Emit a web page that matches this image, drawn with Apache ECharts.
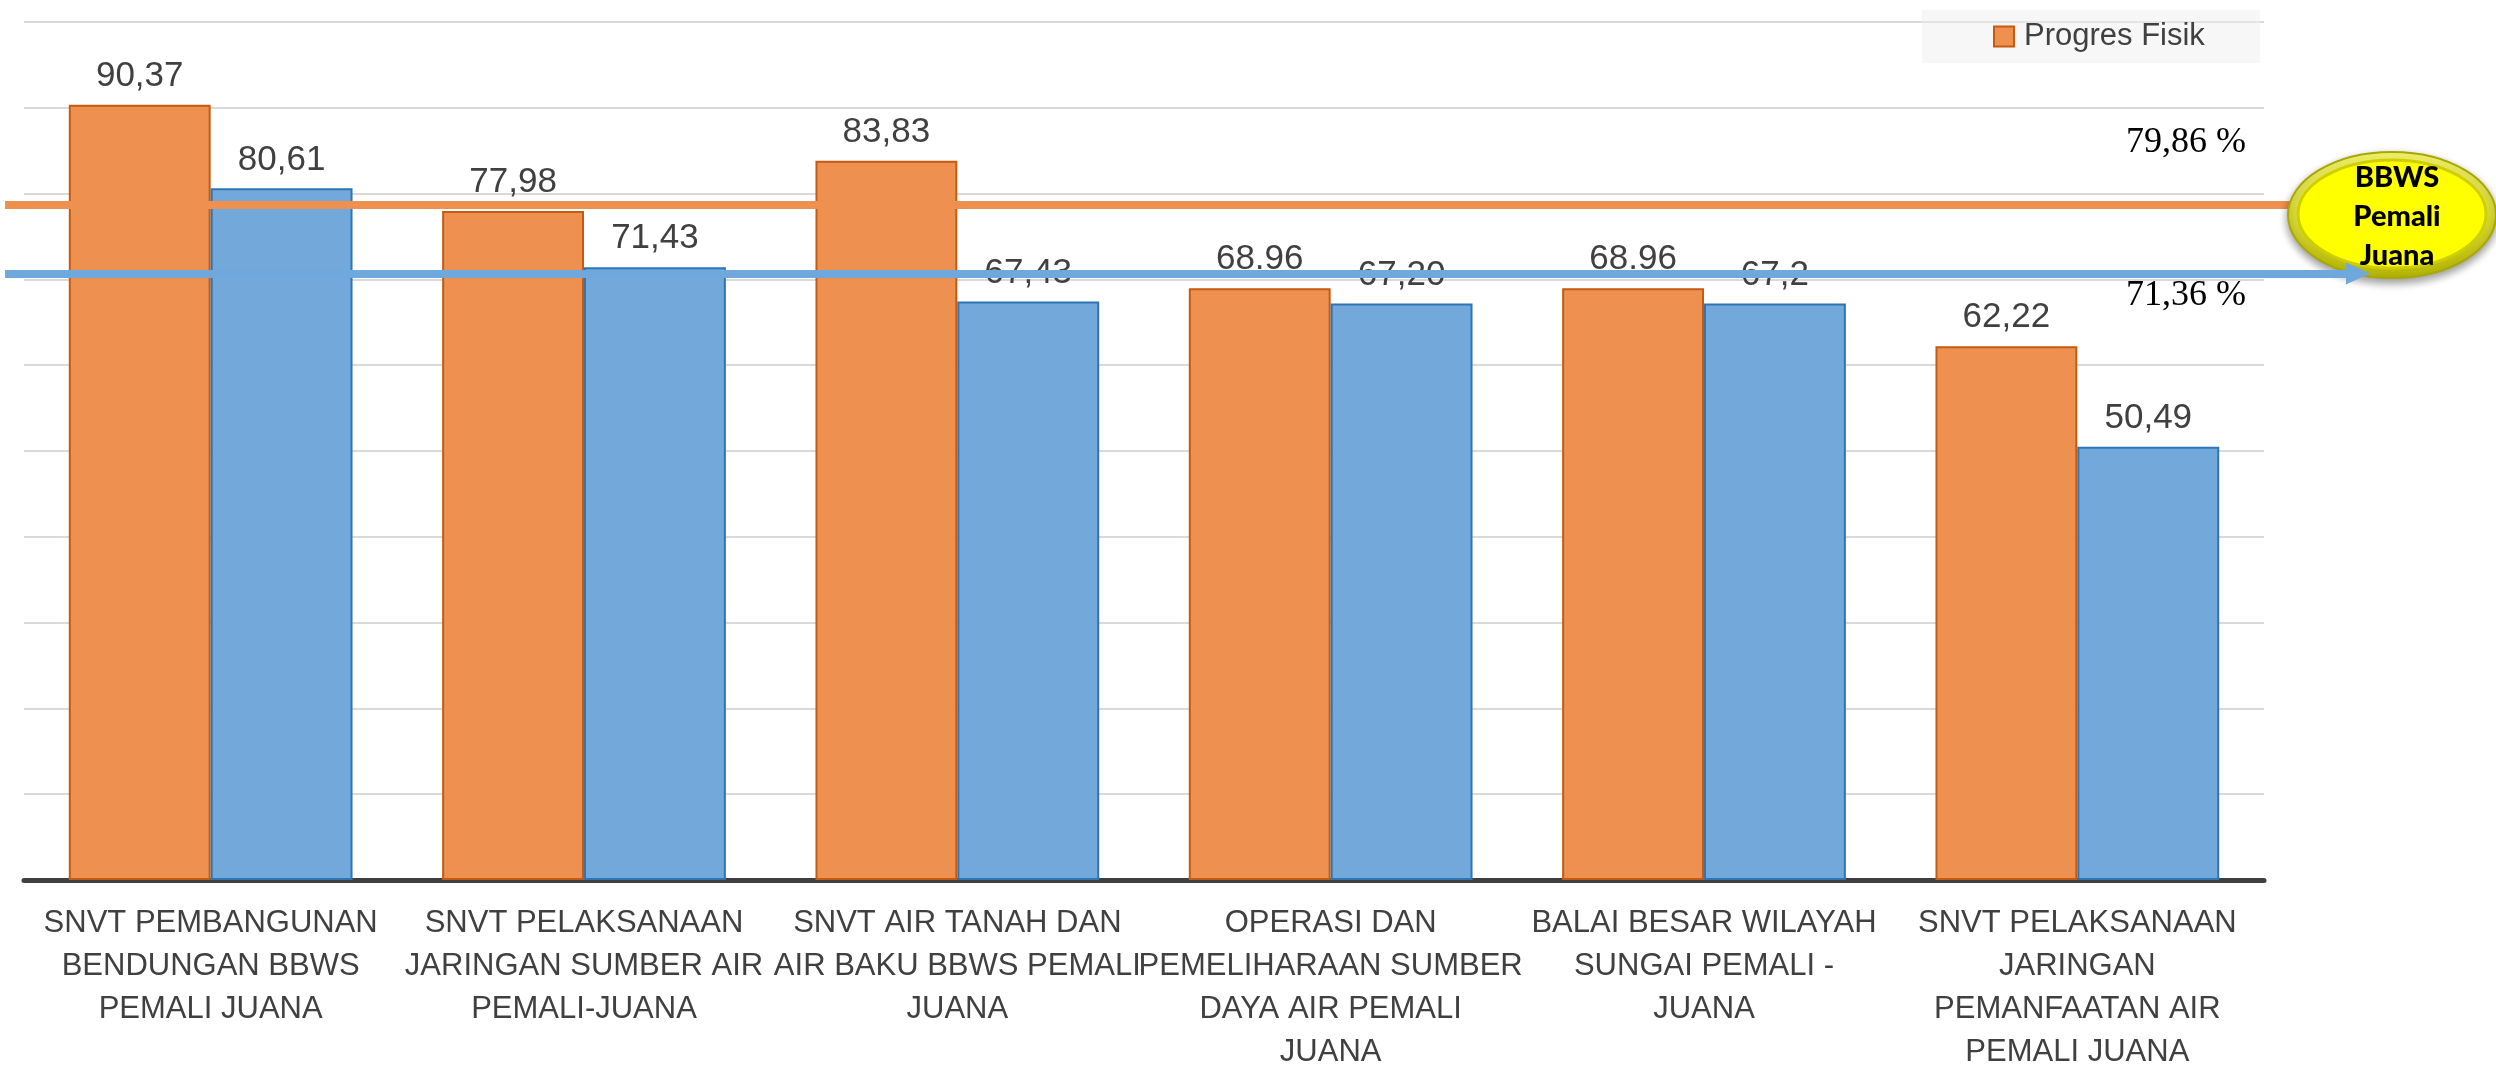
<!DOCTYPE html>
<html>
<head>
<meta charset="utf-8">
<title>Progres Fisik BBWS Pemali Juana</title>
<script src="https://cdn.jsdelivr.net/npm/echarts@6/dist/echarts.min.js"></script>
<style>
  html, body { margin: 0; padding: 0; background: #fff; }
  #main { width: 2496px; height: 1067px; }
</style>
</head>
<body>
<div id="main"></div>
<script>
// data
var categories = [
  'SNVT PEMBANGUNAN\nBENDUNGAN BBWS\nPEMALI JUANA',
  'SNVT PELAKSANAAN\nJARINGAN SUMBER AIR\nPEMALI-JUANA',
  'SNVT AIR TANAH DAN\nAIR BAKU BBWS PEMALI\nJUANA',
  'OPERASI DAN\nPEMELIHARAAN SUMBER\nDAYA AIR PEMALI\nJUANA',
  'BALAI BESAR WILAYAH\nSUNGAI PEMALI -\nJUANA',
  'SNVT PELAKSANAAN\nJARINGAN\nPEMANFAATAN AIR\nPEMALI JUANA'
];
var progresFisik = [90.37, 77.98, 83.83, 68.96, 68.96, 62.22];
var fisikLabels = ['90,37', '77,98', '83,83', '68.96', '68.96', '62,22'];
var progresKeuangan = [80.61, 71.43, 67.43, 67.20, 67.2, 50.49];
var keuanganLabels = ['80,61', '71,43', '67,43', '67,20', '67,2', '50,49'];
// BBWS level lines (where they sit on the picture) and their annotations
var targetLevels = [78.7, 70.7];
var targetLabels = ['79,86 %', '71,36 %'];
var badgeText = 'BBWS\nPemali\nJuana';

var chart = echarts.init(document.getElementById('main'));

var option = {
  animation: false,
  grid: { left: 24, right: 232, top: 22, bottom: 187, containLabel: false, outerBoundsMode: 'none' },
  legend: {
    data: ['Progres Fisik'],
    left: 1922, top: 10,
    padding: [11, 55, 11, 71],
    backgroundColor: 'rgba(240,240,240,0.5)',
    itemWidth: 20, itemHeight: 20,
    icon: 'rect',
    textStyle: { fontFamily: 'Liberation Sans', fontSize: 31, color: '#404040', padding: [0, 0, 0, 5], lineHeight: 31 }
  },
  xAxis: {
    type: 'category',
    data: categories,
    axisLine: { lineStyle: { color: '#404040', width: 5 } },
    axisTick: { show: false },
    axisLabel: {
      interval: 0, margin: 22,
      fontFamily: 'Liberation Sans', fontSize: 31, lineHeight: 43, color: '#404040'
    }
  },
  yAxis: {
    type: 'value', min: 0, max: 100, interval: 10,
    axisLine: { show: false }, axisTick: { show: false }, axisLabel: { show: false },
    splitLine: { lineStyle: { color: '#D9D9D9', width: 2 } }
  },
  series: [
    {
      name: 'Progres Fisik', type: 'bar',
      data: progresFisik,
      barGap: '0%', barCategoryGap: '24%',
      itemStyle: { color: '#EE9050', borderColor: '#C55A11', borderWidth: 2 },
      label: {
        show: true, position: 'top', distance: 11,
        fontFamily: 'Liberation Sans', fontSize: 35, color: '#404040',
        formatter: function (p) { return fisikLabels[p.dataIndex]; }
      },
      markLine: {
        silent: true, symbol: 'none', z: 5,
        label: { show: false },
        lineStyle: { color: '#EE9050', width: 8, type: 'solid', opacity: 1 },
        data: [[{ x: 5, yAxis: targetLevels[0] }, { x: 2305, yAxis: targetLevels[0] }]]
      }
    },
    {
      name: 'Progres Keuangan', type: 'bar',
      data: progresKeuangan,
      itemStyle: { color: '#72A8DA', borderColor: '#2E75B6', borderWidth: 2 },
      label: {
        show: true, position: 'top', distance: 11,
        fontFamily: 'Liberation Sans', fontSize: 35, color: '#404040',
        formatter: function (p) { return keuanganLabels[p.dataIndex]; }
      },
      markLine: {
        silent: true, z: 20,
        symbol: ['none', 'triangle'], symbolSize: [22, 24],
        label: { show: false },
        lineStyle: { color: '#6FA8DC', width: 8, type: 'solid', opacity: 1 },
        itemStyle: { color: '#6FA8DC' },
        data: [[{ x: 5, yAxis: targetLevels[1] }, { x: 2358, yAxis: targetLevels[1] }]]
      }
    }
  ]
};
chart.setOption(option);

// annotations placed from the axis scale
var yTop = chart.convertToPixel({ yAxisIndex: 0 }, targetLevels[0]);
var yLow = chart.convertToPixel({ yAxisIndex: 0 }, targetLevels[1]);
chart.setOption({
  graphic: [
    {
      type: 'text', right: 250, top: yTop - 80, z: 10,
      style: { text: targetLabels[0], font: '36px "Liberation Serif"', fill: '#000' }
    },
    {
      type: 'text', right: 250, top: yLow + 4, z: 10,
      style: { text: targetLabels[1], font: '36px "Liberation Serif"', fill: '#000' }
    },
    {
      type: 'ellipse', z: 12,
      shape: { cx: 2392, cy: 215, rx: 104, ry: 63 },
      style: {
        fill: new echarts.graphic.LinearGradient(0, 0, 0, 1, [
          { offset: 0, color: '#FFFF70' }, { offset: 1, color: '#B5B500' }
        ]),
        stroke: '#A8A800', lineWidth: 2,
        shadowBlur: 8, shadowColor: 'rgba(0,0,0,0.4)', shadowOffsetY: 4
      }
    },
    {
      type: 'ellipse', z: 13,
      shape: { cx: 2392, cy: 214, rx: 94, ry: 54 },
      style: { fill: '#FFFF00', stroke: '#CFCF00', lineWidth: 3 }
    },
    {
      type: 'text', z: 14, x: 2397, y: 217,
      style: {
        text: badgeText, font: '900 29px Lato', fill: '#000',
        align: 'center', verticalAlign: 'middle', lineHeight: 39
      }
    }
  ]
});
</script>
</body>
</html>
